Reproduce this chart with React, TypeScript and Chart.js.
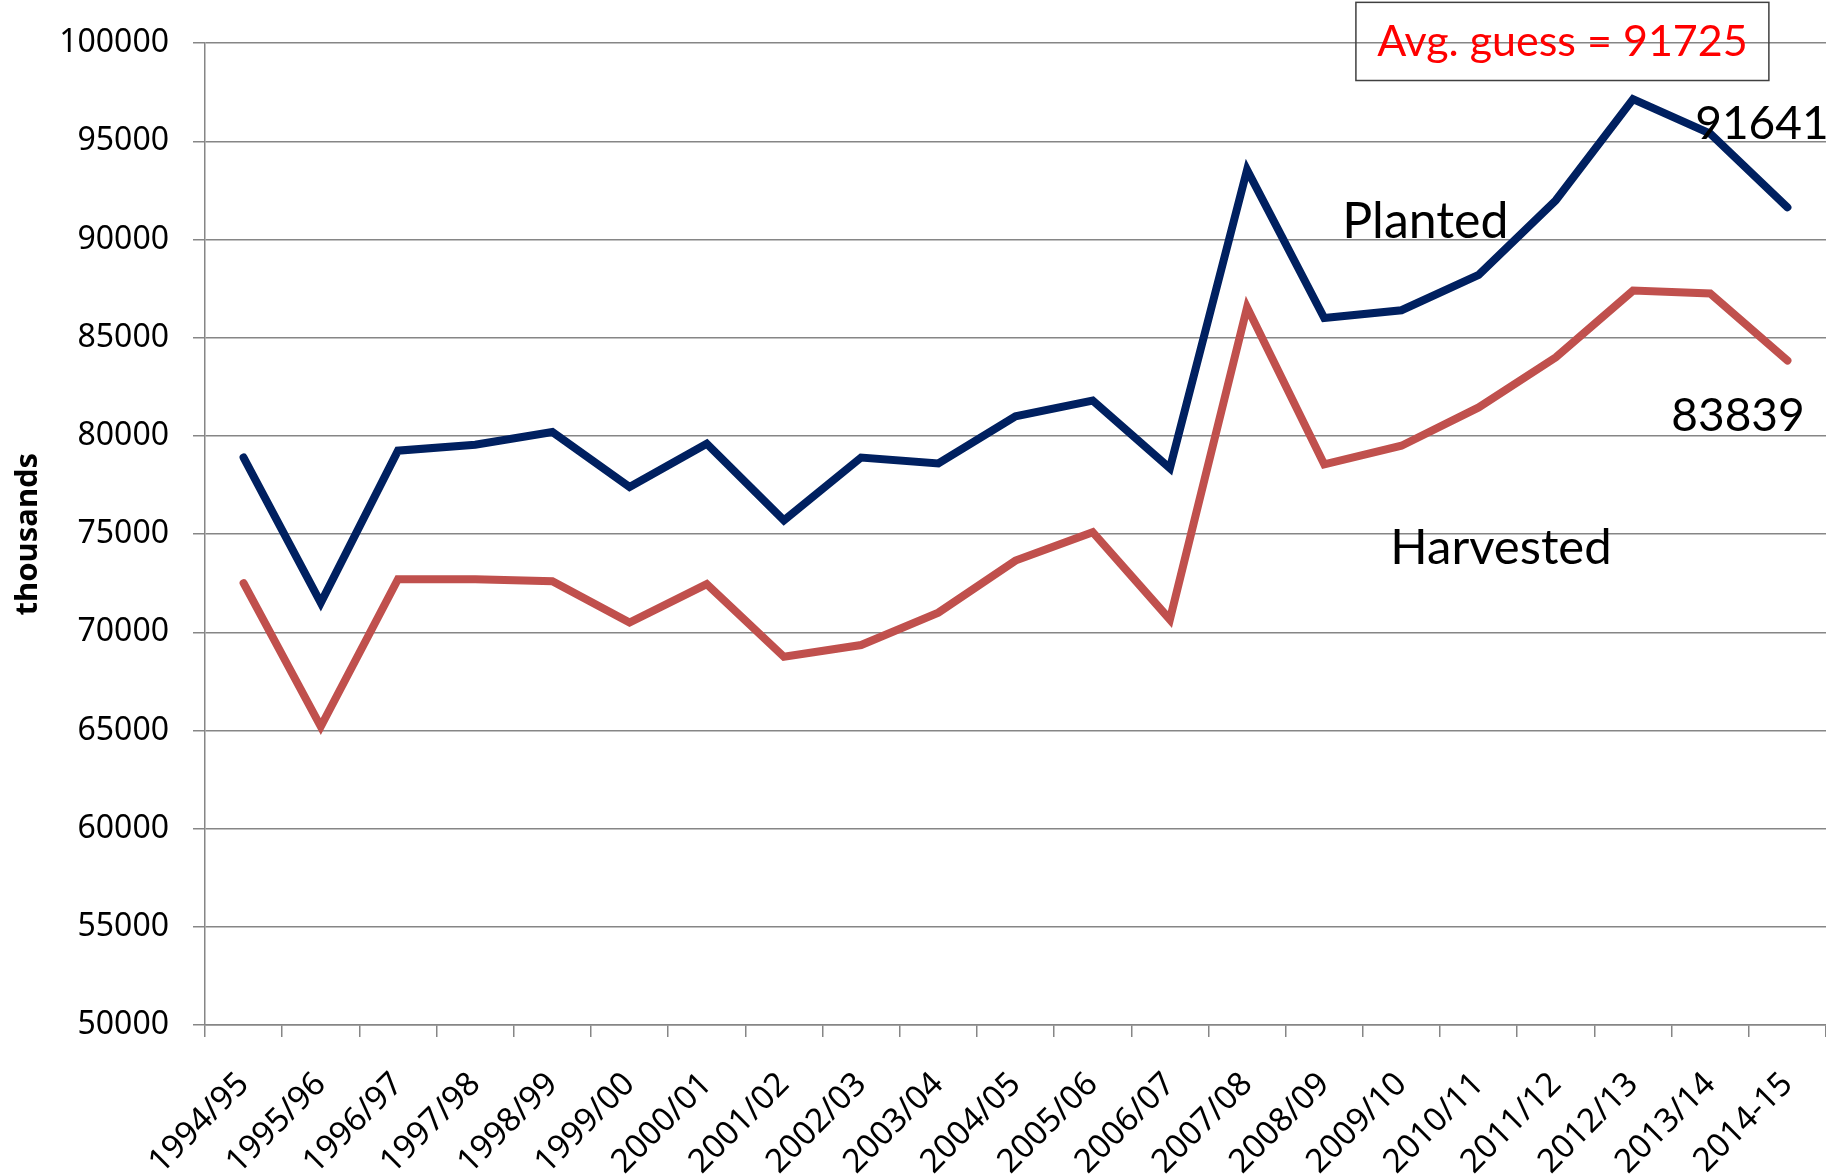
import React, { useEffect, useRef } from "react";
import { Chart, registerables } from "chart.js";

Chart.register(...registerables);

const seasons = [
  "1994/95", "1995/96", "1996/97", "1997/98", "1998/99", "1999/00", "2000/01",
  "2001/02", "2002/03", "2003/04", "2004/05", "2005/06", "2006/07", "2007/08",
  "2008/09", "2009/10", "2010/11", "2011/12", "2012/13", "2013/14", "2014-15",
];

const planted = [
  78900, 71500, 79250, 79550, 80200, 77400, 79600, 75700, 78900, 78600, 81000,
  81800, 78350, 93550, 86000, 86400, 88200, 92000, 97150, 95400, 91641,
];

const harvested = [
  72500, 65200, 72700, 72700, 72600, 70500, 72450, 68750, 69350, 71000, 73650,
  75100, 70650, 86550, 78550, 79500, 81450, 84000, 87400, 87250, 83839,
];

const yTicksMin = 50000;
const yTicksMax = 100000;
const yTickStep = 5000;
const yTitle = "thousands";

// text annotations: text, category position, value, font size
const noteTexts = ["Planted", "Harvested", "91641", "83839"];
const noteX = [15.31, 16.29, 19.67, 19.36];
const noteY = [90900, 74300, 95900, 81000];
const noteSize = [50, 49, 46, 46];

const guessText = "Avg. guess = 91725";
const guessBoxX = [14.41, 19.76];
const guessBoxY = [102080, 98100];

export default function App() {
  const ref = useRef<HTMLCanvasElement | null>(null);

  useEffect(() => {
    document.body.style.margin = "0";
    if (!ref.current) return;

    const notesPlugin = {
      id: "notes",
      afterDraw(chart: any) {
        const { ctx } = chart;
        const xs = chart.scales.x;
        const ys = chart.scales.y;
        ctx.save();
        ctx.textAlign = "center";
        ctx.textBaseline = "middle";
        ctx.fillStyle = "#000000";
        noteTexts.forEach((t, i) => {
          ctx.font = `${noteSize[i]}px Lato`;
          ctx.fillText(t, xs.getPixelForValue(noteX[i]), ys.getPixelForValue(noteY[i]));
        });
        const x0 = xs.getPixelForValue(guessBoxX[0]);
        const x1 = xs.getPixelForValue(guessBoxX[1]);
        const y0 = ys.getPixelForValue(guessBoxY[0]);
        const y1 = ys.getPixelForValue(guessBoxY[1]);
        ctx.strokeStyle = "#404040";
        ctx.lineWidth = 1.5;
        ctx.strokeRect(x0, y0, x1 - x0, y1 - y0);
        ctx.fillStyle = "#FF0000";
        ctx.font = "43px Lato";
        ctx.fillText(guessText, (x0 + x1) / 2, (y0 + y1) / 2 + 1);
        ctx.restore();
      },
    };

    const chart = new Chart(ref.current, {
      type: "line",
      data: {
        labels: seasons,
        datasets: [
          {
            label: "Planted",
            data: planted,
            borderColor: "#002060",
            backgroundColor: "#002060",
            borderWidth: 8,
            pointRadius: 0,
            tension: 0,
            borderCapStyle: "round",
          },
          {
            label: "Harvested",
            data: harvested,
            borderColor: "#C0504D",
            backgroundColor: "#C0504D",
            borderWidth: 8,
            pointRadius: 0,
            tension: 0,
            borderCapStyle: "round",
          },
        ],
      },
      options: {
        responsive: false,
        animation: false,
        layout: { padding: { top: 42, right: 0, left: 0, bottom: 0 } },
        plugins: {
          legend: { display: false },
          tooltip: { enabled: false },
        },
        scales: {
          x: {
            offset: true,
            afterFit: (s: any) => {
              s.height = 1175 - 1025;
              s.paddingRight = 0;
              s.paddingLeft = 0;
            },
            grid: {
              offset: true,
              drawOnChartArea: false,
              color: "#868686",
              lineWidth: 1.5,
              tickLength: 12,
            },
            border: { color: "#868686", width: 1.5 },
            ticks: {
              maxRotation: 45,
              minRotation: 45,
              autoSkip: false,
              color: "#000000",
              padding: 28,
              font: { family: "Noto Sans", size: 33 },
            },
          },
          y: {
            min: yTicksMin,
            max: yTicksMax,
            afterFit: (s: any) => {
              s.width = 205;
            },
            grid: { color: "#868686", lineWidth: 1.5, tickLength: 12 },
            border: { color: "#868686", width: 1.5 },
            ticks: {
              stepSize: yTickStep,
              color: "#000000",
              padding: 24,
              font: { family: "Noto Sans", size: 32 },
              callback: (v: any) => String(v),
            },
            title: {
              display: true,
              text: yTitle,
              color: "#000000",
              padding: { top: 10, bottom: 0 },
              font: { family: "Noto Sans", size: 31, weight: "bold" },
            },
          },
        },
      },
      plugins: [notesPlugin],
    } as any);

    return () => chart.destroy();
  }, []);

  return (
    <div style={{ width: 1826, height: 1175, background: "#ffffff" }}>
      <canvas ref={ref} width={1826} height={1175} />
    </div>
  );
}
